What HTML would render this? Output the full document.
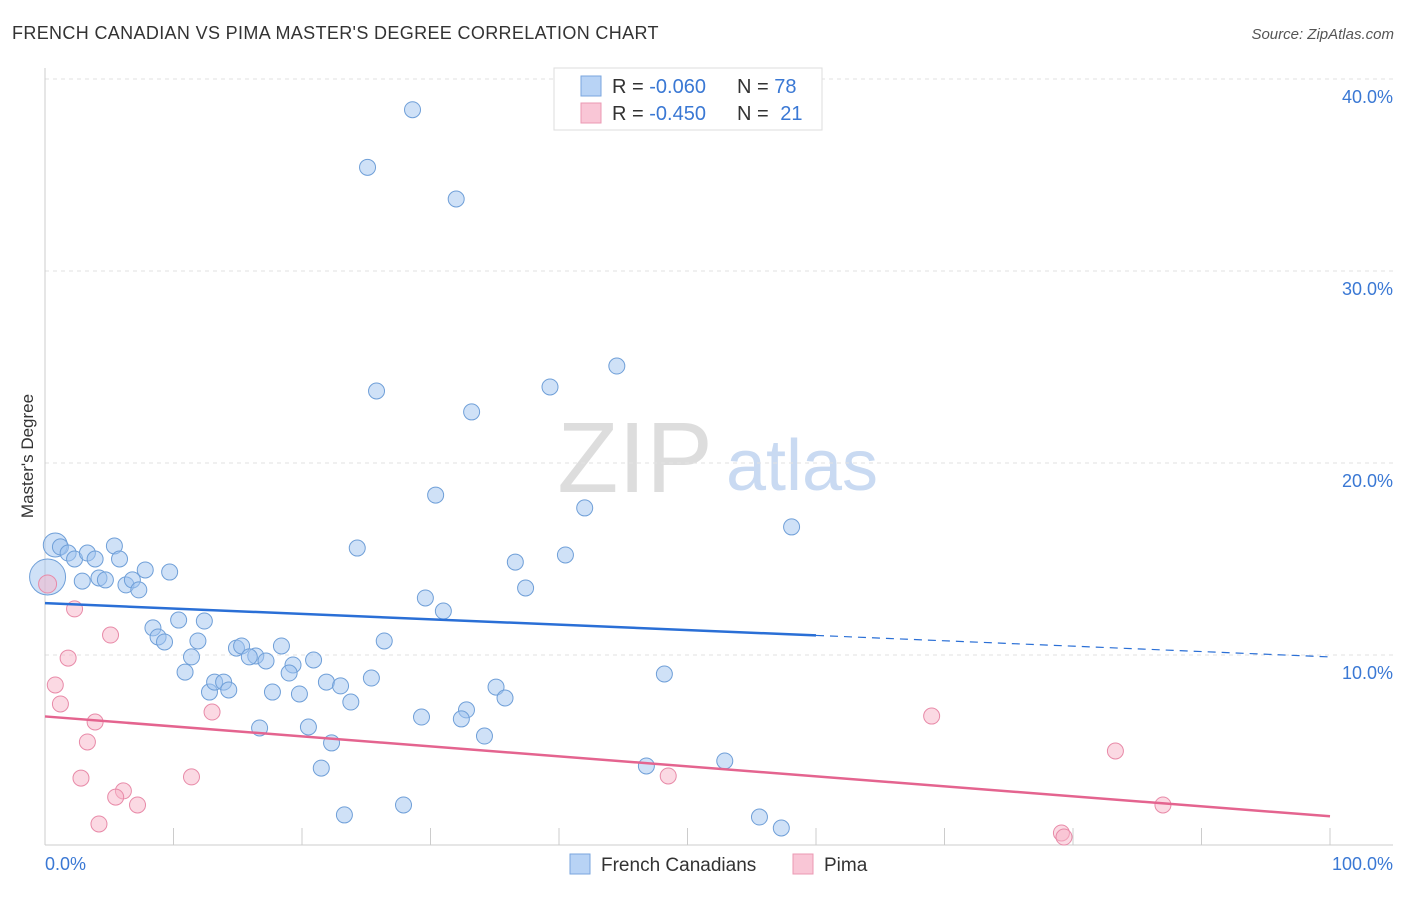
<!DOCTYPE html>
<html><head><meta charset="utf-8"><style>
body{margin:0;background:#fff;font-family:"Liberation Sans",sans-serif;}
svg text{font-family:"Liberation Sans",sans-serif;}
</style></head><body>
<svg id="c" width="1406" height="892" xmlns="http://www.w3.org/2000/svg">
<text x="12" y="39" font-size="18" fill="#333" letter-spacing="0.35">FRENCH CANADIAN VS PIMA MASTER'S DEGREE CORRELATION CHART</text>
<text x="1394" y="39" font-size="15" fill="#555" font-style="italic" text-anchor="end">Source: ZipAtlas.com</text>
<text transform="translate(33,456) rotate(-90)" font-size="17" fill="#333" text-anchor="middle">Master's Degree</text>
<g><text x="635" y="492" font-size="100" fill="#ddd" font-family="Liberation Serif" text-anchor="middle">ZIP</text><text x="802" y="490" font-size="72" fill="#c9daf2" text-anchor="middle">atlas</text></g>
<g id="grid"></g><g id="pts"></g><g id="lines"></g>
<g>
<rect x="554" y="68" width="268" height="62" fill="#fff" stroke="#ddd"/>
<rect x="581" y="76" width="20" height="20" fill="#b8d3f5" stroke="#7aa6de"/>
<rect x="581" y="103" width="20" height="20" fill="#f9c6d6" stroke="#eb98b3"/>
<text x="612" y="93" font-size="20" fill="#333">R = <tspan fill="#3a78d4">-0.060</tspan></text>
<text x="737" y="93" font-size="20" fill="#333">N = <tspan fill="#3a78d4">78</tspan></text>
<text x="612" y="120" font-size="20" fill="#333">R = <tspan fill="#3a78d4">-0.450</tspan></text>
<text x="737" y="120" font-size="20" fill="#333">N = <tspan fill="#3a78d4" dx="6">21</tspan></text>
</g>
<g>
<rect x="570" y="854" width="20" height="20" fill="#b8d3f5" stroke="#7aa6de"/>
<text x="601" y="871" font-size="19" fill="#333">French Canadians</text>
<rect x="793" y="854" width="20" height="20" fill="#f9c6d6" stroke="#eb98b3"/>
<text x="824" y="871" font-size="19" fill="#333">Pima</text>
</g>
</svg>
<script>
const yTicks=[10,20,30,40];
const xTickLabels=["0.0%","100.0%"];
const blueX=[28.6,25.1,32.0,44.5,39.3,25.8,33.2,30.4,42.0,58.1,24.3,40.5,36.6,37.4,29.6,31.0,0.8,1.2,1.8,2.3,3.3,3.9,5.4,5.8,7.8,9.7,0.2,2.9,4.2,4.7,6.3,6.8,7.3,8.4,8.8,9.3,10.4,12.4,11.9,11.4,10.9,14.9,15.3,16.4,15.9,17.2,18.4,19.3,20.9,19.0,26.4,12.8,13.2,13.9,14.3,17.7,19.8,21.9,23.0,23.8,25.4,48.2,35.1,35.8,32.8,32.4,29.3,16.7,20.5,22.3,34.2,46.8,52.9,21.5,27.9,23.3,55.6,57.3];
const blueY=[38.4,35.4,33.75,25.05,23.96,23.75,22.66,18.33,17.66,16.67,15.57,15.21,14.84,13.49,12.97,12.29,15.73,15.63,15.31,15.0,15.31,15.0,15.68,15.0,14.43,14.32,14.06,13.85,14.01,13.91,13.65,13.91,13.39,11.41,10.94,10.68,11.82,11.77,10.73,9.9,9.11,10.36,10.47,9.95,9.9,9.69,10.47,9.48,9.74,9.06,10.73,8.07,8.59,8.59,8.18,8.07,7.97,8.59,8.39,7.55,8.8,9.01,8.33,7.76,7.14,6.67,6.77,6.2,6.25,5.42,5.78,4.22,4.48,4.11,2.19,1.67,1.56,0.99];
const pinkX=[0.2,2.3,5.1,1.8,0.8,1.2,3.9,13.0,3.3,2.8,11.4,6.1,5.5,7.2,4.2,69.0,83.3,48.5,87.0,79.1,79.3];
const pinkY=[13.7,12.4,11.04,9.84,8.44,7.45,6.51,7.03,5.47,3.59,3.65,2.92,2.6,2.19,1.2,6.82,5.0,3.7,2.19,0.73,0.52];
const blueTrend=[12.7,9.9];
const pinkTrend=[6.8,1.6];
const X=v=>45+v*12.85, Y=v=>847-v*19.2;
const NS="http://www.w3.org/2000/svg";
function mk(p,t,a){const e=document.createElementNS(NS,t);for(const k in a)e.setAttribute(k,a[k]);p.appendChild(e);return e;}
const g=document.getElementById('grid');
yTicks.forEach(t=>{const l=mk(g,'line',{x1:45,x2:1393,y1:Y(t),y2:Y(t),stroke:'#e2e2e2','stroke-dasharray':'4,4'});


const tx=mk(g,'text',{x:1393,y:Y(t)+24,'font-size':18,fill:'#3a78d4','text-anchor':'end'});tx.textContent=t.toFixed(1)+'%';

});
const ax=mk(g,'line',{x1:45,x2:1393,y1:845,y2:845,stroke:'#ccc'});


const ay=mk(g,'line',{x1:45,x2:45,y1:68,y2:845,stroke:'#ccc'});


for(let i=0;i<=10;i++){const t=mk(g,'line',{x1:X(i*10),x2:X(i*10),y1:828,y2:845,stroke:'#ccc'});

}
const l0=mk(g,'text',{x:45,y:870,'font-size':18,fill:'#3a78d4'});l0.textContent=xTickLabels[0];


const l1=mk(g,'text',{x:1393,y:870,'font-size':18,fill:'#3a78d4','text-anchor':'end'});l1.textContent=xTickLabels[1];


const P=document.getElementById('pts');
blueX.forEach((x,i)=>{let r=8;if(i==26)r=18;if(i==16)r=12;const c=mk(P,'circle',{cx:X(x),cy:Y(blueY[i]),r:r,fill:'rgba(160,196,240,0.5)',stroke:'#6f9fd8','stroke-width':1});

});
pinkX.forEach((x,i)=>{const c=mk(P,'circle',{cx:X(x),cy:Y(pinkY[i]),r:i==0?9:8,fill:'rgba(248,180,200,0.5)',stroke:'#e88aa8','stroke-width':1});

});
const L=document.getElementById('lines');
const bAt=v=>blueTrend[0]+(blueTrend[1]-blueTrend[0])*v/100;
const b1=mk(L,'line',{x1:X(0),y1:Y(bAt(0)),x2:X(60),y2:Y(bAt(60)),stroke:'#2a6fd6','stroke-width':2.5});


const b2=mk(L,'line',{x1:X(60),y1:Y(bAt(60)),x2:X(100),y2:Y(bAt(100)),stroke:'#2a6fd6','stroke-width':1.2,'stroke-dasharray':'8,6'});


const p1=mk(L,'line',{x1:X(0),y1:Y(pinkTrend[0]),x2:X(100),y2:Y(pinkTrend[1]),stroke:'#e4648f','stroke-width':2.5});


</script>
</body></html>
